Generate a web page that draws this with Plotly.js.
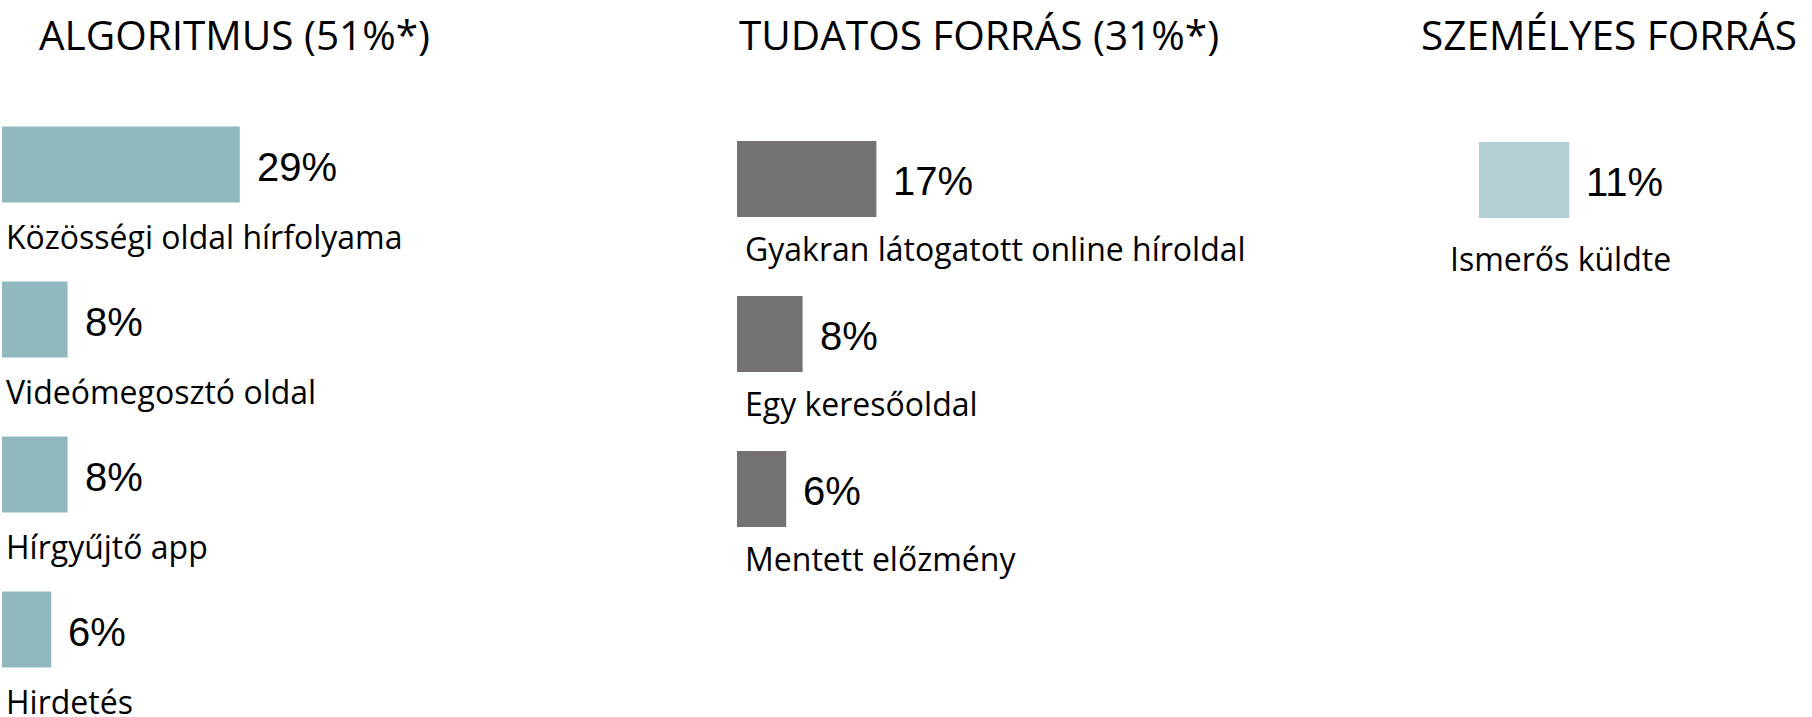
<!DOCTYPE html>
<html>
<head>
<meta charset="utf-8">
<script src="https://cdn.plot.ly/plotly-3.0.1.min.js"></script>
<style>html,body{margin:0;padding:0;background:#fff;}#chart{width:1812px;height:717px;}</style>
</head>
<body>
<div id="chart"></div>
<script>
const titles = ['ALGORITMUS (51%*)', 'TUDATOS FORRÁS (31%*)', 'SZEMÉLYES FORRÁS'];
const algCats = ['Közösségi oldal hírfolyama', 'Videómegosztó oldal', 'Hírgyűjtő app', 'Hirdetés'];
const algVals = [29, 8, 8, 6];
const tudCats = ['Gyakran látogatott online híroldal', 'Egy keresőoldal', 'Mentett előzmény'];
const tudVals = [17, 8, 6];
const szemCats = ['Ismerős küldte'];
const szemVals = [11];

const W = 1812, H = 717;
const colors = ['#8fb9bf', '#767171', '#b5cfd6'];
const panels = [
  {cats: algCats, vals: algVals, x0: 2, top: 164.5, lblShiftX: 2, lblShiftY: -72, titleX: 37},
  {cats: tudCats, vals: tudVals, x0: 737, top: 179, lblShiftX: 6, lblShiftY: -69, titleX: 737},
  {cats: szemCats, vals: szemVals, x0: 1479, top: 180, lblShiftX: -31, lblShiftY: -78, titleX: 1419}
];
const pxPerUnit = 8.2, xMax = 40, rowPx = 155;
const labelFont = {family: '"Open Sans", "Noto Sans", sans-serif', size: 32, color: '#000'};
const valueFont = {family: '"Liberation Sans", Arial, sans-serif', size: 40, color: '#000'};
const titleFont = {family: '"Open Sans", "Noto Sans", sans-serif', size: 40.5, color: '#000', weight: 400};

const data = [];
const annotations = [];
const layout = {
  width: W, height: H,
  margin: {l: 0, r: 0, t: 0, b: 0},
  paper_bgcolor: '#fff', plot_bgcolor: '#fff',
  showlegend: false,
  annotations: annotations
};

panels.forEach((p, i) => {
  const n = i === 0 ? '' : String(i + 1);
  data.push({
    type: 'bar', orientation: 'h',
    x: p.vals, y: p.cats,
    xaxis: 'x' + n, yaxis: 'y' + n,
    width: 0.49,
    marker: {color: colors[i], line: {width: 0}},
    hoverinfo: 'skip'
  });
  const r0 = -p.top / rowPx;
  const r1 = r0 + H / rowPx;
  layout['xaxis' + n] = {
    domain: [p.x0 / W, (p.x0 + pxPerUnit * xMax) / W],
    range: [0, xMax], visible: false, fixedrange: true,
    anchor: 'y' + n
  };
  layout['yaxis' + n] = {
    domain: [0, 1], type: 'category',
    categoryorder: 'array', categoryarray: p.cats,
    range: [r1, r0], visible: false, fixedrange: true,
    anchor: 'x' + n
  };
  annotations.push({
    xref: 'paper', yref: 'paper',
    x: p.titleX / W, y: 1 - 35 / H,
    xanchor: 'left', yanchor: 'middle',
    text: titles[i], showarrow: false, font: titleFont
  });
  p.cats.forEach((c, j) => {
    annotations.push({
      xref: 'x' + n, yref: 'y' + n,
      x: 0, y: c, xanchor: 'left', yanchor: 'middle',
      xshift: p.lblShiftX, yshift: p.lblShiftY,
      text: c, showarrow: false, font: labelFont
    });
    annotations.push({
      xref: 'x' + n, yref: 'y' + n,
      x: p.vals[j], y: c, xanchor: 'left', yanchor: 'middle',
      xshift: 15, yshift: -2,
      text: p.vals[j] + '%', showarrow: false, font: valueFont
    });
  });
});

Plotly.newPlot('chart', data, layout, {displayModeBar: false, staticPlot: true});
</script>
</body>
</html>
